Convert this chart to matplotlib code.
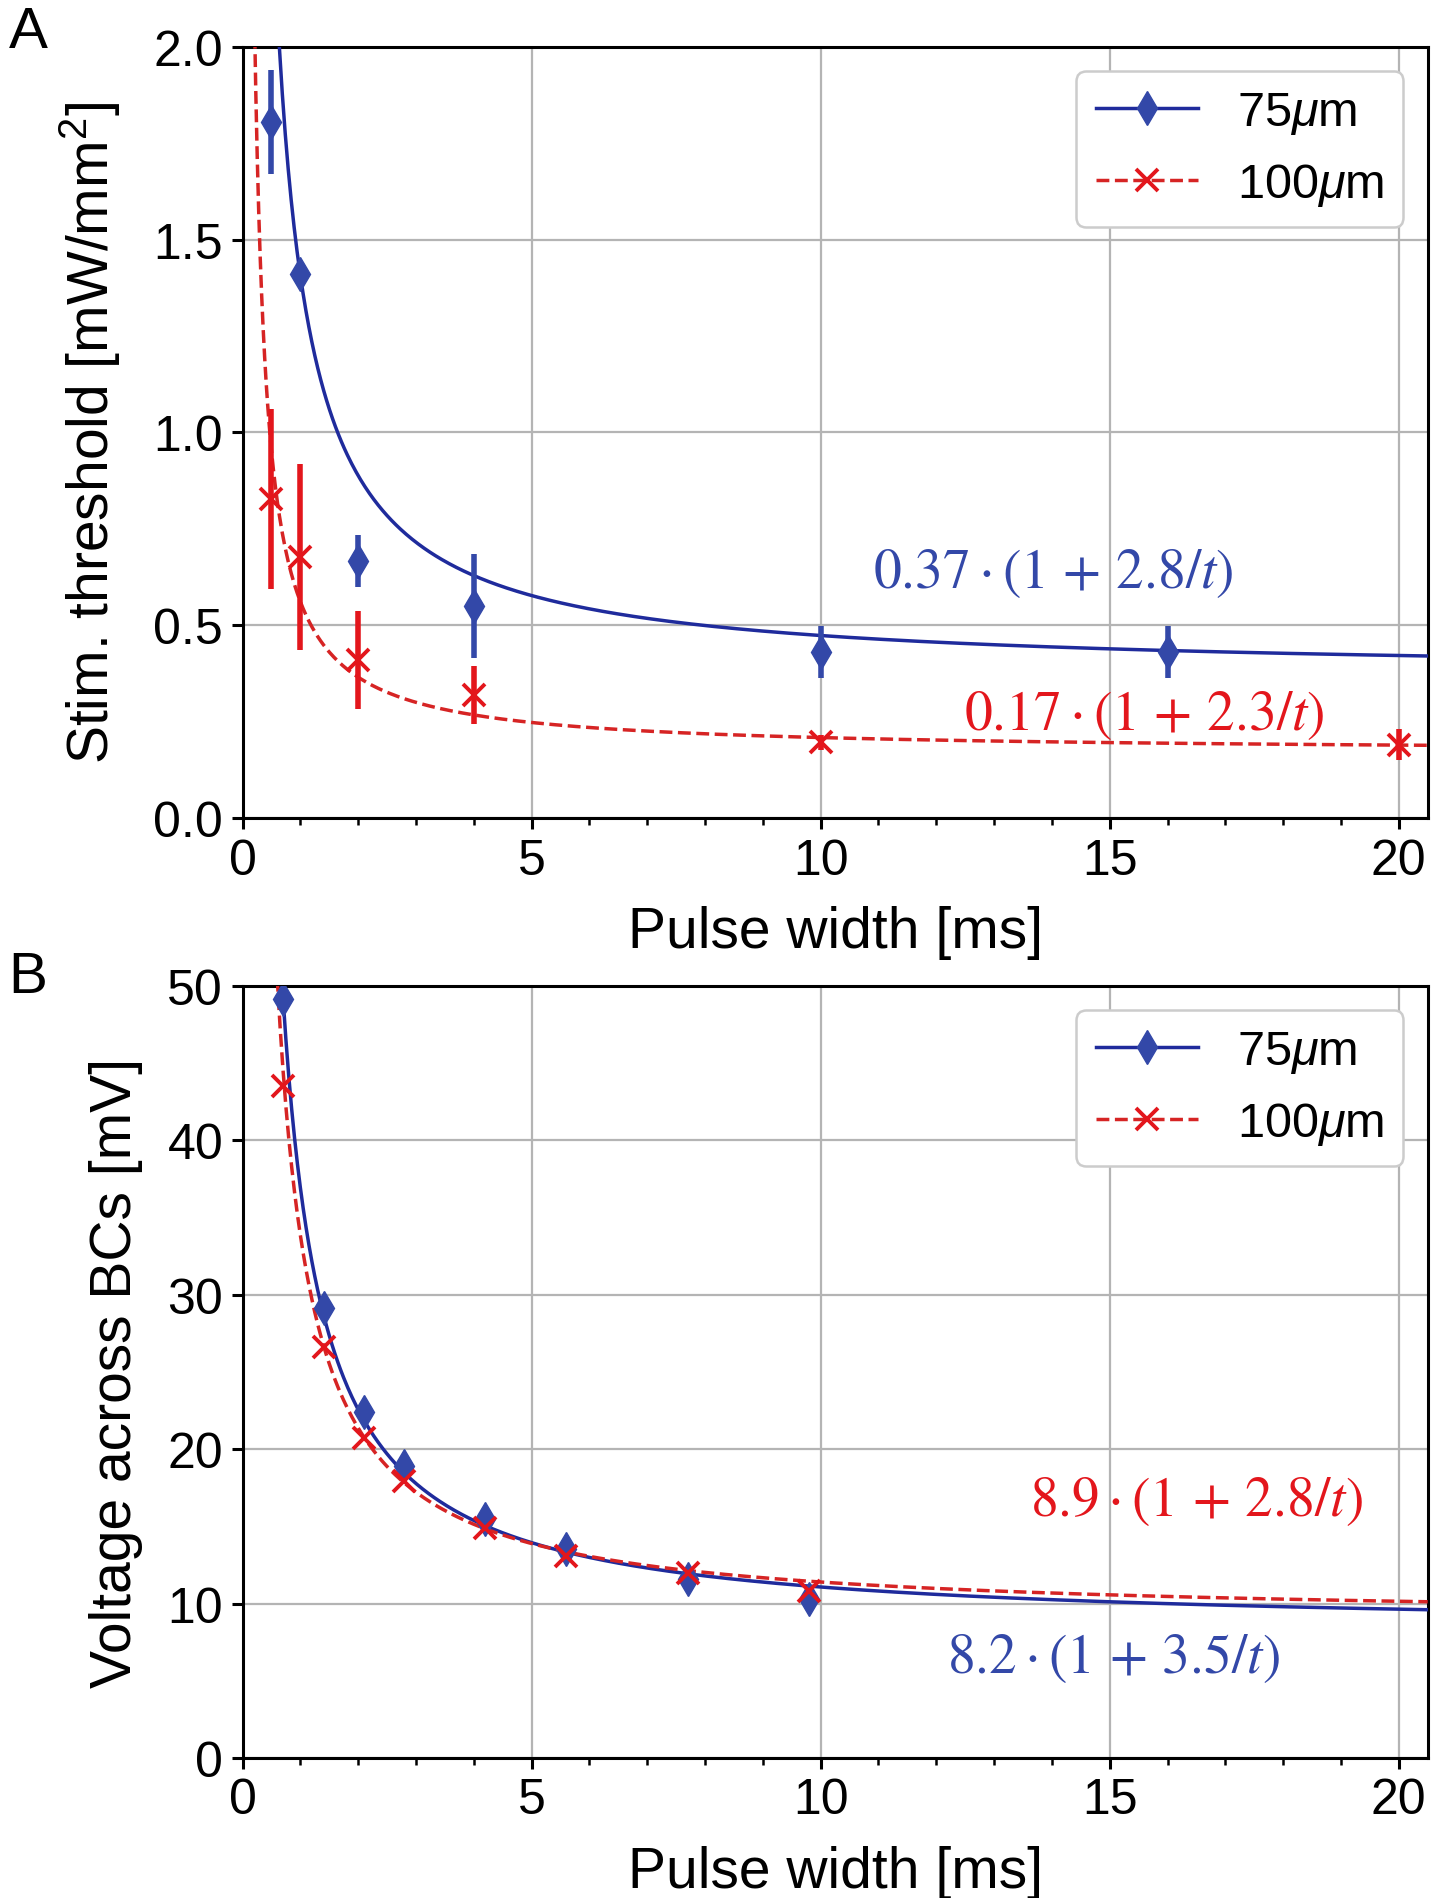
import numpy as np
import matplotlib
matplotlib.use("Agg")
import matplotlib.pyplot as plt
from matplotlib.lines import Line2D
from matplotlib.ticker import MultipleLocator, FormatStrFormatter

# --- data panel A: stimulation threshold ---
pulse_a_75 = [0.5, 1, 2, 4, 10, 16]
thr_75 = [1.804, 1.412, 0.666, 0.55, 0.43, 0.43]
thr_75_err = [0.135, 0.02, 0.067, 0.135, 0.067, 0.067]

pulse_a_100 = [0.5, 1, 2, 4, 10, 20]
thr_100 = [0.828, 0.677, 0.41, 0.319, 0.197, 0.19]
thr_100_err = [0.233, 0.24, 0.127, 0.075, 0.02, 0.04]

# --- data panel B: voltage across BCs ---
pulse_b = [0.7, 1.4, 2.1, 2.8, 4.2, 5.6, 7.7, 9.8]
volt_75 = [49.1, 29.1, 22.4, 18.9, 15.5, 13.5, 11.6, 10.3]
volt_100 = [43.5, 26.6, 20.7, 17.9, 14.9, 13.1, 12.0, 10.8]

# fitted model a * (1 + b / t), parameters as printed on the chart
fit_a_75 = (0.37, 2.8)
fit_a_100 = (0.17, 2.3)
fit_b_75 = (8.2, 3.5)
fit_b_100 = (8.9, 2.8)

labels = ["75$\\mu$m", "100$\\mu$m"]

BLUE_LINE = "#1f2b9c"
BLUE_MARK = "#3348a8"
RED_LINE = "#d62424"
RED_MARK = "#e3161c"

plt.rcParams["font.family"] = ["Liberation Sans", "DejaVu Sans"]
plt.rcParams["mathtext.fontset"] = "custom"
plt.rcParams["mathtext.rm"] = "Liberation Sans"
plt.rcParams["mathtext.it"] = "Liberation Sans:italic"
plt.rcParams["font.size"] = 35


def model(p, t):
    return p[0] * (1 + p[1] / t)


def style_axes(ax, ylabel_x):
    ax.set_xlim(0, 20.5)
    ax.xaxis.set_major_locator(MultipleLocator(5))
    ax.xaxis.set_minor_locator(MultipleLocator(1))
    ax.grid(True, which="major", color="#b4b4b4", lw=1.6)
    ax.set_axisbelow(True)
    for s in ax.spines.values():
        s.set_linewidth(2.2)
    ax.tick_params(which="major", length=8, width=2.2, labelsize=36, pad=6)
    ax.tick_params(which="minor", length=5, width=1.8)
    ax.set_xlabel("Pulse width [ms]", fontsize=41)
    ax.xaxis.set_label_coords(0.5, -0.112)
    ax.yaxis.set_label_coords(ylabel_x, 0.5)


def legend(ax):
    handles = [
        Line2D([], [], color=BLUE_LINE, lw=2.5, marker="d", ms=17,
               mfc=BLUE_MARK, mec=BLUE_MARK),
        Line2D([], [], color=RED_LINE, lw=2.5, ls="--", marker="x", ms=16,
               mec=RED_MARK, mew=2.8),
    ]
    lg = ax.legend(handles, labels, loc="upper right", fontsize=35,
                   framealpha=1, edgecolor="#cccccc", handlelength=2.1)
    lg.get_frame().set_linewidth(1.8)


def fit_label(ax, x, y, text, color):
    ax.text(x, y, text, color=color, fontsize=40, ha="center", va="center",
            math_fontfamily="stix")


fig = plt.figure(figsize=(14.44, 18.99), dpi=100)
axA = fig.add_axes([0.168, 0.5686, 0.8207, 0.4063])
axB = fig.add_axes([0.168, 0.0737, 0.8207, 0.4068])

# ---- Panel A ----
t = np.linspace(0.1, 20.5, 800)
axA.plot(t, model(fit_a_75, t), color=BLUE_LINE, lw=2.5, zorder=3)
axA.plot(t, model(fit_a_100, t), color=RED_LINE, lw=2.5, ls="--", zorder=3)
axA.errorbar(pulse_a_75, thr_75, yerr=thr_75_err, fmt="d", ms=17,
             color=BLUE_MARK, elinewidth=4, capsize=0, zorder=4)
axA.errorbar(pulse_a_100, thr_100, yerr=thr_100_err, fmt="x", ms=16, mew=2.8,
             color=RED_MARK, elinewidth=4, capsize=0, zorder=4)
axA.set_ylim(0, 2.0)
axA.yaxis.set_major_locator(MultipleLocator(0.5))
axA.yaxis.set_major_formatter(FormatStrFormatter("%.1f"))
axA.set_ylabel("Stim. threshold [mW/mm$^2$]", fontsize=41)
style_axes(axA, -0.101)
legend(axA)
fit_label(axA, 14.03, 0.636, r"$0.37\cdot(1\,+\,2.8/t)$", BLUE_MARK)
fit_label(axA, 15.6, 0.268, r"$0.17\cdot(1\,+\,2.3/t)$", RED_MARK)

# ---- Panel B ----
tb = np.linspace(0.6, 20.5, 800)
axB.plot(tb, model(fit_b_75, tb), color=BLUE_LINE, lw=2.5, zorder=3)
axB.plot(tb, model(fit_b_100, tb), color=RED_LINE, lw=2.5, ls="--", zorder=3)
axB.plot(pulse_b, volt_75, ls="none", marker="d", ms=17, color=BLUE_MARK, zorder=4)
axB.plot(pulse_b, volt_100, ls="none", marker="x", ms=16, mew=2.8,
         color=RED_MARK, zorder=5)
axB.set_ylim(0, 50)
axB.yaxis.set_major_locator(MultipleLocator(10))
axB.set_ylabel("Voltage across BCs [mV]", fontsize=41)
style_axes(axB, -0.084)
legend(axB)
fit_label(axB, 16.5, 16.7, r"$8.9\cdot(1\,+\,2.8/t)$", RED_MARK)
fit_label(axB, 15.07, 6.5, r"$8.2\cdot(1\,+\,3.5/t)$", BLUE_MARK)

fig.text(0.006, 0.997, "A", fontsize=42, ha="left", va="top")
fig.text(0.006, 0.499, "B", fontsize=42, ha="left", va="top")

fig.savefig("out.png", dpi=100)
